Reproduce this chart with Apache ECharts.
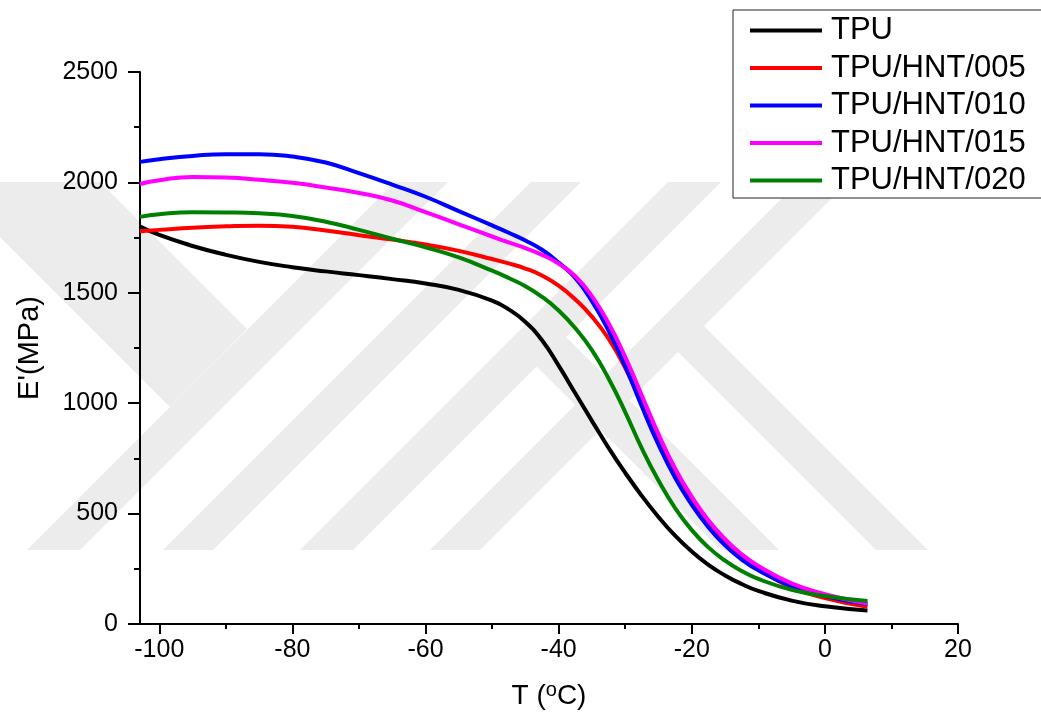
<!DOCTYPE html>
<html>
<head>
<meta charset="utf-8">
<script src="https://cdn.jsdelivr.net/npm/echarts@6/dist/echarts.min.js"></script>
<style>
html,body{margin:0;padding:0;background:#fff;}
#chart{width:1041px;height:722px;}
</style>
</head>
<body>
<div id="chart"></div>
<script>
// ---- data ----
const temps = [-102.9, -100, -95, -90, -85, -80, -75, -70, -65, -60, -55, -50, -47.5, -45, -42.5, -40, -37.5, -35, -32.5, -30, -27.5, -25, -22.5, -20, -17.5, -15, -12.5, -10, -5, 0, 6.4];
const seriesNames = ['TPU', 'TPU/HNT/005', 'TPU/HNT/010', 'TPU/HNT/015', 'TPU/HNT/020'];
const tpu    = [1800, 1762, 1712, 1672, 1640, 1616, 1597, 1580, 1562, 1542, 1513, 1465, 1425, 1368, 1285, 1170, 1045, 920, 798, 685, 580, 485, 400, 328, 268, 220, 181, 150, 106, 80, 61];
const hnt005 = [1779, 1785, 1795, 1801, 1804, 1799, 1782, 1761, 1741, 1719, 1690, 1653, 1633, 1610, 1578, 1532, 1470, 1392, 1292, 1160, 997, 830, 680, 553, 450, 366, 299, 247, 166, 118, 78];
const hnt010 = [2093, 2105, 2120, 2128, 2128, 2117, 2090, 2042, 1990, 1935, 1870, 1805, 1772, 1737, 1695, 1637, 1567, 1462, 1328, 1168, 985, 812, 662, 540, 438, 356, 292, 243, 171, 127, 90];
const hnt015 = [1993, 2010, 2025, 2022, 2012, 1998, 1977, 1952, 1918, 1865, 1810, 1755, 1728, 1702, 1672, 1632, 1575, 1485, 1362, 1210, 1035, 860, 705, 577, 470, 385, 316, 263, 184, 135, 93];
const hnt020 = [1844, 1856, 1865, 1864, 1860, 1848, 1822, 1785, 1745, 1706, 1660, 1600, 1567, 1530, 1482, 1420, 1340, 1240, 1112, 960, 795, 650, 525, 425, 347, 287, 240, 204, 155, 127, 104];
const seriesColors = ['#000000', '#ff0000', '#0000ff', '#ff00ff', '#008000'];
const xMajorTicks = [-100, -80, -60, -40, -20, 0, 20];
const xMinorTicks = [-90, -70, -50, -30, -10, 10];
const xMin = -102.9, xMax = 20;
const yMin = 0, yMax = 2500, yStep = 500;

const allValues = [tpu, hnt005, hnt010, hnt015, hnt020];

const chart = echarts.init(document.getElementById('chart'), null, {renderer: 'canvas'});

const FONT = "'Liberation Sans', Arial, Helvetica, sans-serif";
const wm = '#ececec';
function poly(pts){
  return {type:'polygon', silent:true, z:-5, shape:{points:pts}, style:{fill:wm}};
}

const option = {
  backgroundColor: '#ffffff',
  animation: false,
  textStyle: {fontFamily: FONT},
  graphic: {
    elements: [
      poly([[0,182],[100,182],[247,329],[170,407],[0,237]]),
      poly([[27,550],[80,550],[448,182],[395,182]]),
      poly([[163,550],[213,550],[581,182],[531,182]]),
      poly([[300,550],[353,550],[721,182],[668,182]]),
      poly([[430,550],[480,550],[848,182],[798,182]]),
      poly([[704,326],[928,550],[876,550],[653,327]]),
      poly([[566,337],[779,550],[721,550],[510,340]])
    ]
  },
  grid: {left: 140, right: 83, top: 72, bottom: 98, containLabel: false},
  legend: {
    orient: 'vertical',
    left: 733,
    top: 10,
    data: seriesNames,
    icon: 'rect',
    itemWidth: 72,
    itemHeight: 4,
    itemGap: 6.5,
    padding: [5, 60, 2, 17],
    borderColor: '#222',
    borderWidth: 1,
    backgroundColor: '#fff',
    textStyle: {fontFamily: FONT, fontSize: 31, lineHeight: 30, color: '#000', padding: [0,0,0,4]}
  },
  xAxis: [
    {
      type: 'value', min: xMin, max: xMax, position: 'bottom',
      name: 'T ({sup|o}C)', nameLocation: 'middle', nameGap: 56,
      nameTextStyle: {fontFamily: FONT, fontSize: 28, color: '#000',
        rich: {sup: {fontFamily: FONT, fontSize: 20, color: '#000', verticalAlign: 'top', padding: [0,0,12,0]}}},
      axisLine: {show: true, onZero: false, lineStyle: {color: '#000', width: 2}},
      axisTick: {show: true, inside: false, length: 10, lineStyle: {color: '#000', width: 2}, customValues: xMajorTicks},
      axisLabel: {show: true, margin: 14, fontFamily: FONT, fontSize: 25, color: '#000', customValues: xMajorTicks,
        formatter: v => String(Math.round(v))},
      splitLine: {show: false}
    },
    {
      type: 'value', min: xMin, max: xMax, position: 'bottom',
      axisLine: {show: false, onZero: false},
      axisTick: {show: true, inside: false, length: 5, lineStyle: {color: '#000', width: 2}, customValues: xMinorTicks},
      axisLabel: {show: false},
      splitLine: {show: false}
    }
  ],
  yAxis: {
    type: 'value', min: yMin, max: yMax, interval: yStep,
    name: "E'(MPa)", nameLocation: 'middle', nameGap: 96, nameRotate: 90,
    nameTextStyle: {fontFamily: FONT, fontSize: 29, color: '#000'},
    axisLine: {show: true, onZero: false, lineStyle: {color: '#000', width: 2}},
    axisTick: {show: true, inside: false, length: 12, lineStyle: {color: '#000', width: 2}},
    minorTick: {show: true, splitNumber: 2, length: 6, lineStyle: {color: '#000', width: 2}},
    axisLabel: {margin: 22, fontFamily: FONT, fontSize: 25, color: '#000', formatter: v => String(v)},
    splitLine: {show: false}
  },
  series: seriesNames.map((n, k) => ({
    name: n,
    type: 'line',
    xAxisIndex: 0,
    smooth: 0.5,
    showSymbol: false,
    symbol: 'none',
    lineStyle: {color: seriesColors[k], width: 4},
    itemStyle: {color: seriesColors[k]},
    z: 3 + k,
    data: temps.map((t, i) => [t, allValues[k][i]])
  }))
};
chart.setOption(option);
</script>
</body>
</html>
